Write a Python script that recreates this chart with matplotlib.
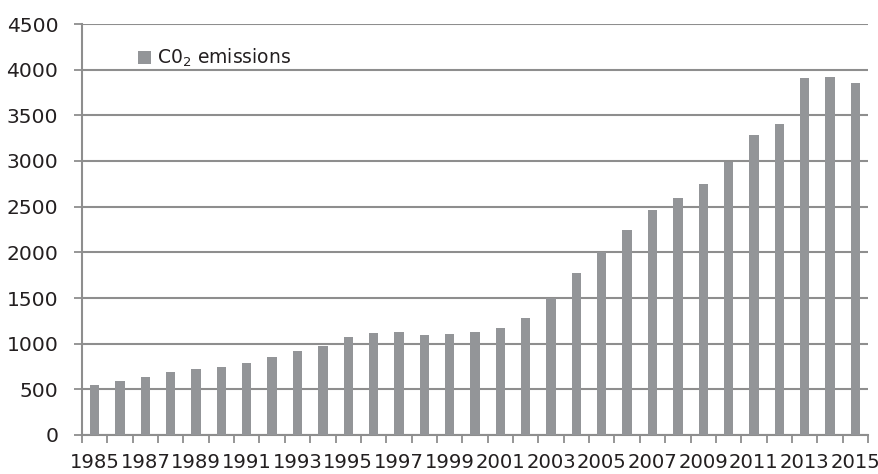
import numpy as np
import matplotlib
matplotlib.use('Agg')
import matplotlib.pyplot as plt

years = list(range(1985, 2016))
emissions = [545, 590, 638, 686, 723, 748, 792, 851, 920, 978,
             1068, 1120, 1131, 1095, 1102, 1131, 1168, 1278, 1503, 1776,
             2005, 2244, 2464, 2598, 2745, 2986, 3281, 3401, 3909, 3920,
             3854]
series_label = 'C0$_2$ emissions'

bar_color = '#939598'
line_color = '#8e8e8e'
text_color = '#231f20'

plt.rcParams['font.family'] = ['DejaVu Sans']
plt.rcParams['mathtext.fontset'] = 'dejavusans'

fig = plt.figure(figsize=(8.79, 4.74), dpi=100)
ax = fig.add_axes([82 / 879, 1 - 435 / 474, (868 - 82) / 879, (435 - 24) / 474])

x = np.arange(len(years))
ax.bar(x, emissions, width=0.37, color=bar_color, label=series_label, zorder=3)

ax.set_xlim(-0.5, len(years) - 0.5)
ax.set_ylim(0, 4500)
ax.set_yticks(np.arange(0, 4501, 500))
ax.yaxis.grid(True, color=line_color, linewidth=1.5)
ax.set_axisbelow(True)

# tick marks at category boundaries, labels on every other year
ax.set_xticks(np.arange(-0.5, len(years), 1.0))
ax.set_xticklabels([])
ax.set_xticks(x[::2], minor=True)
ax.set_xticklabels([str(y) for y in years[::2]], minor=True)
ax.tick_params(axis='x', which='major', length=6, width=1.3, color=line_color)
ax.tick_params(axis='x', which='minor', length=0, pad=13, labelsize=14.1, labelcolor=text_color)
ax.tick_params(axis='y', length=6, width=1.3, color=line_color, pad=11, labelsize=14.6,
               labelcolor=text_color)

for s in ['top', 'right']:
    ax.spines[s].set_visible(False)
for s in ['left', 'bottom']:
    ax.spines[s].set_color(line_color)
    ax.spines[s].set_linewidth(1.5)

ax.legend(loc='upper left', bbox_to_anchor=(0.05, 0.985), frameon=False, fontsize=13.5,
          handlelength=0.7, handleheight=0.7, handletextpad=0.3, labelcolor=text_color)

fig.savefig('out.png', dpi=100)
